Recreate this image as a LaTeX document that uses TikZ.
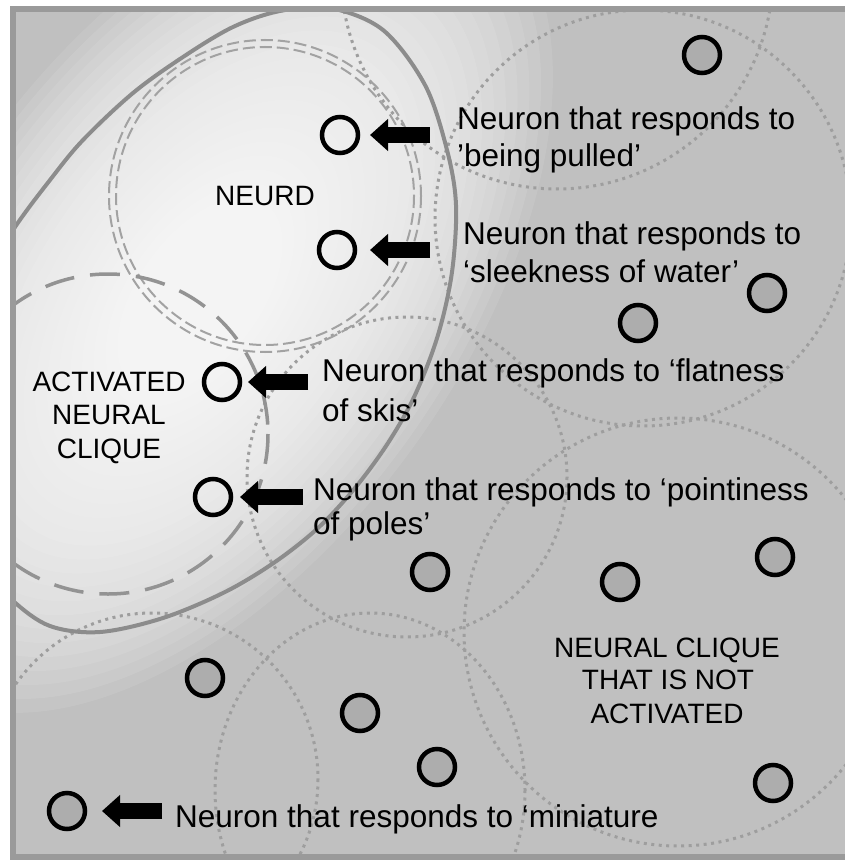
\documentclass[tikz,border=0pt]{standalone}
\usepackage{fontspec}
\setmainfont{Liberation Sans}
\usetikzlibrary{arrows.meta}
\definecolor{bgc}{HTML}{C0C0C0}
\definecolor{framec}{HTML}{9A9A9A}
\definecolor{dotgray}{HTML}{9E9E9E}
\definecolor{ellgray}{HTML}{8C8C8C}
\definecolor{neurdgray}{HTML}{A2A2A2}
\definecolor{actgray}{HTML}{939393}
\definecolor{ngray}{HTML}{ADADAD}
\tikzset{
  lbl/.style={font=\fontsize{31.5}{37}\selectfont, inner sep=0pt, anchor=base west},
  caplbl/.style={font=\fontsize{28}{33}\selectfont, inner sep=0pt, anchor=base},
  actn/.style={circle, draw=black, line width=4.5pt, minimum size=36pt, inner sep=0pt},
  grayn/.style={actn, fill=ngray},
  blk/.style={draw=black, line width=16pt, -{Triangle[length=18pt,width=31pt]}},
  dotc/.style={draw=dotgray, line width=3pt, dash pattern=on 3pt off 4.5pt},
  neurdc/.style={draw=neurdgray, line width=2pt, dash pattern=on 12pt off 5pt},
  actc/.style={draw=actgray, line width=3.5pt, dash pattern=on 30pt off 16pt},
  ellc/.style={draw=ellgray, line width=4pt},
}
\begin{document}
\begin{tikzpicture}[x=1pt,y=-1pt]
\useasboundingbox (0,0) rectangle (844,861);
\fill[bgc] (13,9) rectangle (860,857);
\begin{scope}
\clip (13,9) rectangle (860,857);
% soft light gradient along the large ellipse
\begin{scope}[shift={(200,295)}, rotate=54]
\foreach \k in {1,...,30}{
  \fill[white, fill opacity=0.09] (0,0) ellipse ({480*\k/30} and {262*\k/30});
}
\end{scope}
% dotted cliques
\draw[dotc] (643,218) circle (208);
\draw[dotc] (557,-27) circle (216);
\draw[dotc] (407,477) circle (160);
\draw[dotc] (678,632) circle (214);
\draw[dotc] (152,779) circle (166);
\draw[dotc] (370,790) ellipse (155 and 177);
% large solid ellipse
\draw[ellc] plot[smooth cycle, tension=0.55] coordinates {
 (13,230) (50,180) (83,140) (133,93) (183,57) (233,27) (280,11) (330,8)
 (383,30) (425,85) (447,150) (456,205) (452,272) (438,335) (415,395)
 (388,443) (355,488) (318,528) (275,562) (225,592) (163,618) (100,632)
 (50,626) (12,600) (-25,560) (-48,480) (-50,390) (-30,300)};
% NEURD double dashed circle
\draw[neurdc] (265,196) circle (156);
\draw[neurdc] (265,196) circle (149);
% activated clique dashed circle
\draw[actc] (108,434) circle (160);
\end{scope}
\draw[framec, line width=6pt] (13,9) rectangle (860,857);

% neurons
\node[actn] (n1) at (340,135) {};
\node[actn] (n2) at (337,250) {};
\node[actn] (n3) at (222,382) {};
\node[actn] (n4) at (213,497) {};
\node[grayn] (g1) at (702,55) {};
\node[grayn] (g2) at (767,293) {};
\node[grayn] (g3) at (638,323) {};
\node[grayn] (g4) at (430,572) {};
\node[grayn] (g5) at (620,582) {};
\node[grayn] (g6) at (775,557) {};
\node[grayn] (g7) at (205,678) {};
\node[grayn] (g8) at (360,713) {};
\node[grayn] (g9) at (437,767) {};
\node[grayn] (g10) at (773,783) {};
\node[grayn] (g11) at (67,811) {};

% arrows
\coordinate (a1) at (430,135);
\coordinate (a2) at (430,250);
\coordinate (a3) at (308,382);
\coordinate (a4) at (303,497);
\coordinate (a5) at (162,811);
\draw[blk, shorten >=9.75pt] (a1) -- (n1);
\draw[blk, shorten >=12.75pt] (a2) -- (n2);
\draw[blk, shorten >=5.75pt] (a3) -- (n3);
\draw[blk, shorten >=6.75pt] (a4) -- (n4);
\draw[blk, shorten >=14.75pt] (a5) -- (g11);

% texts
\node[lbl] (t1a) at (457,130) {Neuron that responds to};
\node[lbl] (t1b) at (457,167) {’being pulled’};
\node[lbl] (t2a) at (463,244) {Neuron that responds to};
\node[lbl] (t2b) at (463,282) {‘sleekness of water’};
\node[lbl] (t3a) at (322,381) {Neuron that responds to ‘flatness};
\node[lbl] (t3b) at (322,421) {of skis’};
\node[lbl] (t4a) at (313,500) {Neuron that responds to ‘pointiness};
\node[lbl] (t4b) at (313,534) {of poles’};
\node[lbl] (t5) at (175,827) {Neuron that responds to ‘miniature};

\node[caplbl] (neurd) at (265,205) {NEURD};
\node[caplbl] (ac1) at (109,391) {ACTIVATED};
\node[caplbl] (ac2) at (109,424) {NEURAL};
\node[caplbl] (ac3) at (109,458) {CLIQUE};
\node[caplbl] (na1) at (667,657) {NEURAL CLIQUE};
\node[caplbl] (na2) at (668,689) {THAT IS NOT};
\node[caplbl] (na3) at (667,723) {ACTIVATED};
\end{tikzpicture}
\end{document}
